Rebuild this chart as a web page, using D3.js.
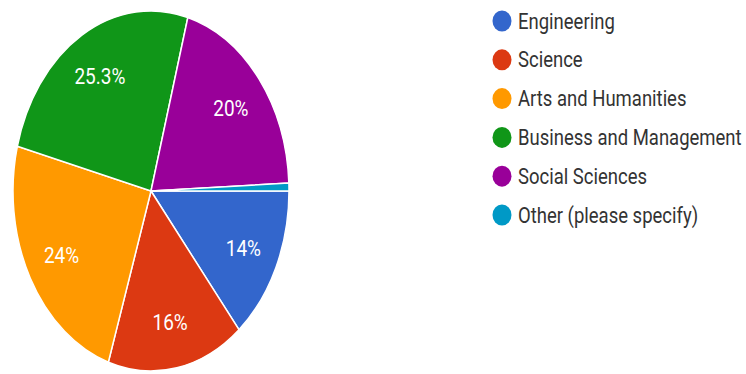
<!DOCTYPE html>
<html>
<head>
<meta charset="utf-8">
<script src="https://cdn.jsdelivr.net/npm/d3@7"></script>
<style>
  body { margin: 0; background: #fff; }
  svg { display: block; }
  text { font-family: Roboto, "Liberation Sans", Arial, sans-serif; }
</style>
</head>
<body>
<svg id="chart" width="746" height="374"></svg>
<script>
// data
const categories = ["Engineering", "Science", "Arts and Humanities", "Business and Management", "Social Sciences", "Other (please specify)"]
const values = [14, 16, 24, 25.3, 20, 0.7]
const labels = ["14%", "16%", "24%", "25.3%", "20%", ""]
const colors = ["#3366cc", "#dc3912", "#ff9900", "#109618", "#990099", "#0099c6"]

const svg = d3.select("#chart")

// the screenshot is stretched vertically, so the pie is an ellipse
const cx = 151, cy = 191
const rx = 138, ry = 180
const k = ry / rx

const pie = d3.pie()
  .sort(null)
  .value(d => d)
  .startAngle(Math.PI / 2)
  .endAngle(Math.PI / 2 + 2 * Math.PI)

const arcs = pie(values)

const arc = d3.arc().innerRadius(0).outerRadius(rx)

const g = svg.append("g")
  .attr("transform", `translate(${cx},${cy}) scale(1,${k})`)

g.selectAll("path")
  .data(arcs)
  .join("path")
    .attr("d", arc)
    .attr("fill", (d, i) => colors[i])
    .attr("stroke", "#fff")
    .attr("stroke-width", 1.5)
    .attr("vector-effect", "non-scaling-stroke")

// slice labels
const labelArc = d3.arc().innerRadius(rx * 0.74).outerRadius(rx * 0.74)

svg.append("g")
  .selectAll("text")
  .data(arcs)
  .join("text")
    .attr("transform", d => {
      const c = labelArc.centroid(d)
      return `translate(${cx + c[0]},${cy + c[1] * k}) scale(1,1.2)`
    })
    .attr("text-anchor", "middle")
    .attr("dy", "0.36em")
    .attr("fill", "#fff")
    .style("font-size", "19px")
    .text((d, i) => labels[i])

// legend
const legend = svg.append("g")
  .attr("transform", "translate(502,21)")

const item = legend.selectAll("g")
  .data(categories)
  .join("g")
    .attr("transform", (d, i) => `translate(0,${i * 38.8})`)

item.append("ellipse")
  .attr("rx", 9.5)
  .attr("ry", 10.5)
  .attr("fill", (d, i) => colors[i])

item.append("text")
  .attr("transform", "translate(16,0) scale(1,1.15)")
  .attr("dy", "0.36em")
  .attr("fill", "#333")
  .style("font-size", "18.5px")
  .text(d => d)
</script>
</body>
</html>
